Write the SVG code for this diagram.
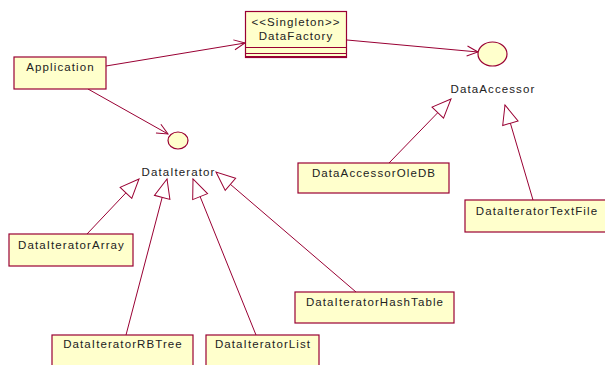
<svg xmlns="http://www.w3.org/2000/svg" width="605" height="365" viewBox="0 0 605 365">
  <style>
    .box { fill: #ffffcc; stroke: #990033; stroke-width: 1.2; }
    .iface { fill: #ffffcc; stroke: #990033; stroke-width: 1.2; }
    .lbl { font-family: "Liberation Sans", Arial, sans-serif; font-size: 11.5px; letter-spacing: 1.1px; fill: #222; text-anchor: middle; }
    .conn { stroke: #990033; stroke-width: 1; fill: none; }
  </style>
  <defs>
    <marker id="open" markerUnits="userSpaceOnUse" markerWidth="14" markerHeight="14" refX="12" refY="6" orient="auto" viewBox="0 0 14 12">
      <path d="M1,1 L12,6 L1,11" fill="none" stroke="#990033" stroke-width="1"/>
    </marker>
    <marker id="gen" markerUnits="userSpaceOnUse" markerWidth="22" markerHeight="20" refX="20" refY="9" orient="auto" viewBox="0 0 22 18">
      <path d="M20,9 L1,1 L1,17 Z" fill="#ffffff" stroke="#990033" stroke-width="1"/>
    </marker>
  </defs>

  <g id="connectors">
    <line class="conn" x1="106" y1="66" x2="245" y2="43" marker-end="url(#open)"/>
    <line class="conn" x1="88" y1="89" x2="168" y2="134" marker-end="url(#open)"/>
    <line class="conn" x1="347" y1="40" x2="478" y2="52" marker-end="url(#open)"/>
    <line class="conn" x1="87" y1="234" x2="139" y2="179" marker-end="url(#gen)"/>
    <line class="conn" x1="126" y1="335" x2="167" y2="179" marker-end="url(#gen)"/>
    <line class="conn" x1="256" y1="335" x2="193" y2="179" marker-end="url(#gen)"/>
    <line class="conn" x1="356" y1="292" x2="216" y2="172" marker-end="url(#gen)"/>
    <line class="conn" x1="389" y1="163" x2="451" y2="99" marker-end="url(#gen)"/>
    <line class="conn" x1="533" y1="200" x2="505" y2="105" marker-end="url(#gen)"/>
  </g>

  <g id="Application">
    <rect class="box" x="14" y="57" width="92" height="32"/>
    <text class="lbl" x="60.5" y="71">Application</text>
  </g>

  <g id="DataFactory">
    <rect class="box" x="245.5" y="11.5" width="101" height="46"/>
    <line class="conn" x1="245.5" y1="47.5" x2="346.5" y2="47.5"/>
    <line class="conn" x1="245.5" y1="53.5" x2="346.5" y2="53.5"/>
    <line class="conn" x1="245.5" y1="56.5" x2="346.5" y2="56.5"/>
    <text class="lbl" x="296" y="26">&lt;&lt;Singleton&gt;&gt;</text>
    <text class="lbl" x="296" y="40">DataFactory</text>
  </g>

  <g id="DataIterator">
    <ellipse class="iface" cx="178" cy="140.5" rx="10" ry="8.5"/>
    <text class="lbl" x="178.5" y="176">DataIterator</text>
  </g>

  <g id="DataAccessor">
    <ellipse class="iface" cx="492.5" cy="54" rx="14.5" ry="12"/>
    <text class="lbl" x="493" y="93">DataAccessor</text>
  </g>

  <g id="DataAccessorOleDB">
    <rect class="box" x="298" y="163" width="151" height="30"/>
    <text class="lbl" x="374" y="177">DataAccessorOleDB</text>
  </g>

  <g id="DataIteratorTextFile">
    <rect class="box" x="465" y="200" width="142" height="32"/>
    <text class="lbl" x="537" y="215">DataIteratorTextFile</text>
  </g>

  <g id="DataIteratorArray">
    <rect class="box" x="9" y="234" width="124" height="32"/>
    <text class="lbl" x="71.5" y="249">DataIteratorArray</text>
  </g>

  <g id="DataIteratorHashTable">
    <rect class="box" x="295" y="292" width="159" height="31"/>
    <text class="lbl" x="375" y="306">DataIteratorHashTable</text>
  </g>

  <g id="DataIteratorRBTree">
    <rect class="box" x="52" y="335" width="141" height="36"/>
    <text class="lbl" x="123" y="348">DataIteratorRBTree</text>
  </g>

  <g id="DataIteratorList">
    <rect class="box" x="206" y="335" width="113" height="36"/>
    <text class="lbl" x="263" y="348">DataIteratorList</text>
  </g>
</svg>
